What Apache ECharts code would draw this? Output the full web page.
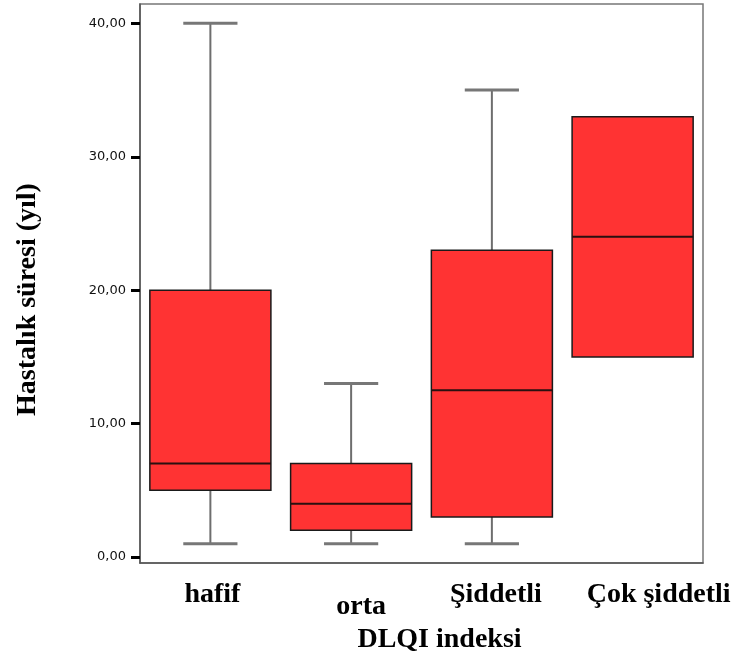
<!DOCTYPE html>
<html lang="tr">
<head>
	<meta charset="UTF-8">
	<title>Hastalık süresi - DLQI indeksi</title>
	<script src="https://cdn.jsdelivr.net/npm/echarts@6/dist/echarts.min.js"></script>
	<style>
		html,body{margin:0;padding:0;background:#fff;}
		#chart{width:737px;height:660px;}
	</style>
</head>
<body>
<div id="chart"></div>
<script>
	// kategoriler ve kutu değerleri
	var categories = ['hafif', 'orta', 'Şiddetli', 'Çok şiddetli'];
	var mins    = [1, 1, 1, 15];
	var q1s     = [5, 2, 3, 15];
	var medians = [7, 4, 12.5, 24];
	var q3s     = [20, 7, 23, 33];
	var maxs    = [40, 13, 35, 33];
	var yTicks  = [0, 10, 20, 30, 40];

	var boxData = [];
	for (var i = 0; i < categories.length; i++) {
		boxData.push([i, mins[i], q1s[i], medians[i], q3s[i], maxs[i]]);
	}

	function renderBox(params, api) {
		var idx = api.value(0);
		var band = api.size([1, 0])[0];
		var boxW = band * 0.86;
		var capW = band * 0.385;
		var pMin = api.coord([idx, api.value(1)]);
		var pQ1 = api.coord([idx, api.value(2)]);
		var pMed = api.coord([idx, api.value(3)]);
		var pQ3 = api.coord([idx, api.value(4)]);
		var pMax = api.coord([idx, api.value(5)]);
		var x = pMed[0];
		var whisker = {stroke: '#6e6e6e', lineWidth: 2};
		var cap = {stroke: '#777', lineWidth: 3};
		var children = [];
		// alt bıyık
		if (api.value(1) < api.value(2)) {
			children.push({type: 'line', shape: {x1: x, y1: pQ1[1], x2: x, y2: pMin[1]}, style: whisker});
			children.push({type: 'line', shape: {x1: x - capW / 2, y1: pMin[1], x2: x + capW / 2, y2: pMin[1]}, style: cap});
		}
		// üst bıyık
		if (api.value(5) > api.value(4)) {
			children.push({type: 'line', shape: {x1: x, y1: pQ3[1], x2: x, y2: pMax[1]}, style: whisker});
			children.push({type: 'line', shape: {x1: x - capW / 2, y1: pMax[1], x2: x + capW / 2, y2: pMax[1]}, style: cap});
		}
		// kutu
		children.push({
			type: 'rect',
			shape: {x: x - boxW / 2, y: pQ3[1], width: boxW, height: pQ1[1] - pQ3[1]},
			style: {fill: '#ff3333', stroke: '#1a1a1a', lineWidth: 1.5}
		});
		// medyan
		children.push({type: 'line', shape: {x1: x - boxW / 2, y1: pMed[1], x2: x + boxW / 2, y2: pMed[1]}, style: {stroke: '#2a1010', lineWidth: 2}});
		return {type: 'group', children: children};
	}

	var chart = echarts.init(document.getElementById('chart'));
	var option = {
		animation: false,
		grid: {
			left: 140,
			right: 34,
			top: 4,
			bottom: 97,
			show: true,
			borderColor: '#777',
			borderWidth: 1.5
		},
		xAxis: {
			type: 'category',
			data: categories,
			name: 'DLQI indeksi',
			nameLocation: 'middle',
			nameGap: 62,
			nameTextStyle: {
				fontFamily: 'Liberation Serif',
				fontWeight: 'bold',
				fontSize: 28,
				color: '#000',
				padding: [0, 0, 0, 36]
			},
			axisLine: {onZero: false, lineStyle: {color: '#555', width: 1.5}},
			axisTick: {alignWithLabel: true, length: 9, lineStyle: {color: '#000', width: 3}},
			axisLabel: {
				interval: 0,
				margin: 18,
				formatter: function (v, i) {
					var key = ['a', 'b', 'c', 'd'][i];
					return '{' + key + '|' + v + '}';
				},
				rich: {
					a: {fontFamily: 'Liberation Serif', fontWeight: 'bold', fontSize: 28, color: '#000', padding: [0, 0, 0, 4]},
					b: {fontFamily: 'Liberation Serif', fontWeight: 'bold', fontSize: 28, color: '#000', padding: [12, 0, 0, 20]},
					c: {fontFamily: 'Liberation Serif', fontWeight: 'bold', fontSize: 28, color: '#000', padding: [0, 0, 0, 8]},
					d: {fontFamily: 'Liberation Serif', fontWeight: 'bold', fontSize: 28, color: '#000', padding: [0, 0, 0, 52]}
				}
			}
		},
		yAxis: {
			type: 'value',
			min: -0.45,
			max: 41.45,
			name: 'Hastalık süresi (yıl)',
			nameLocation: 'middle',
			nameGap: 98,
			nameTextStyle: {
				fontFamily: 'Liberation Serif',
				fontWeight: 'bold',
				fontSize: 28,
				color: '#000',
				padding: [0, 32, 0, 0]
			},
			splitLine: {show: false},
			axisLine: {show: true, lineStyle: {color: '#555', width: 1.5}},
			axisTick: {show: true, customValues: yTicks, length: 9, lineStyle: {color: '#000', width: 3}},
			axisLabel: {
				customValues: yTicks,
				margin: 14,
				fontFamily: 'DejaVu Sans',
				fontSize: 13,
				color: '#111',
				formatter: function (v) {
					return v.toFixed(2).replace('.', ',');
				}
			}
		},
		series: [{
			type: 'custom',
			renderItem: renderBox,
			encode: {x: 0, y: [1, 2, 3, 4, 5]},
			data: boxData
		}]
	};
	chart.setOption(option);
</script>
</body>
</html>
